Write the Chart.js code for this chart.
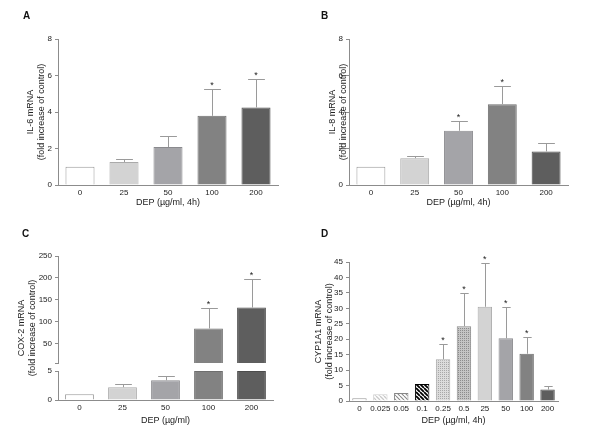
<!DOCTYPE html>
<html>
<head>
<meta charset="utf-8">
<script src="https://cdn.jsdelivr.net/npm/chart.js@4.4.1/dist/chart.umd.min.js"></script>
<style>
  body { margin: 0; background: #fff; }
  #fig { position: relative; width: 600px; height: 443px; }
  #fig canvas { position: absolute; }
  .tag { position: absolute; font: bold 10px "Liberation Sans", Arial, sans-serif; color: #111; line-height: 10px; }
</style>
</head>
<body>
<div id="fig">
  <canvas id="chartA" width="300" height="215" style="left:0;top:0"></canvas>
  <canvas id="chartB" width="300" height="215" style="left:300px;top:0"></canvas>
  <canvas id="chartC" width="300" height="223" style="left:0;top:220px"></canvas>
  <canvas id="chartD" width="300" height="223" style="left:300px;top:220px"></canvas>
  <div class="tag" style="left:23px;top:11px">A</div>
  <div class="tag" style="left:321px;top:11px">B</div>
  <div class="tag" style="left:22px;top:229px">C</div>
  <div class="tag" style="left:321px;top:229px">D</div>
</div>
<script>
// doses (x categories)
const doses = ['0', '25', '50', '100', '200'];
const cypDoses = ['0', '0.025', '0.05', '0.1', '0.25', '0.5', '25', '50', '100', '200'];

// A: IL-6
const il6Mean = [1.0, 1.26, 2.08, 3.79, 4.25];
const il6Err = [null, 1.42, 2.69, 5.25, 5.8];
const il6Sig = [false, false, false, true, true];

// B: IL-8
const il8Mean = [1.0, 1.47, 2.97, 4.43, 1.84];
const il8Err = [null, 1.6, 3.53, 5.43, 2.29];
const il8Sig = [false, false, true, true, false];

// C: COX-2 (broken axis)
const cox2Mean = [1.0, 2.2, 3.4, 84, 132];
const cox2Err = [null, 2.7, 4.1, 132, 198];
const cox2Sig = [false, false, false, true, true];
const cox2LowTicks = [0, 5];
const cox2HighTicks = [5, 50, 100, 150, 200, 250];
const cox2Break = 5;

// D: CYP1A1
const cypMean = [0.9, 2.2, 2.6, 5.5, 13.5, 24.2, 30.5, 20.3, 15.3, 3.7];
const cypErr = [null, null, null, null, 18.3, 35.0, 44.6, 30.5, 20.8, 5.0];
const cypSig = [false, false, false, false, true, true, true, true, true, false];

Chart.defaults.font.family = '"Liberation Sans", Arial, sans-serif';
Chart.defaults.color = '#222';

const axisGray = '#8c8c8c';
const greys = ['#ffffff', '#d3d3d3', '#a4a4a8', '#828282', '#5e5e5e'];
const greyBorders = ['#999999', '#aaaaaa', '#8a8a8e', '#6e6e6e', '#4c4c4c'];

function stripes(fg, lw, gap) {
    const c = document.createElement('canvas');
    c.width = gap; c.height = gap;
    const g = c.getContext('2d');
    g.fillStyle = '#fff';
    g.fillRect(0, 0, gap, gap);
    g.strokeStyle = fg;
    g.lineWidth = lw;
    g.beginPath();
    for (let k = -1; k <= 1; k++) {
        g.moveTo(k * gap, 0);
        g.lineTo(k * gap + gap, gap);
    }
    g.stroke();
    return g.createPattern(c, 'repeat');
}

function dots(bg, fg) {
    const c = document.createElement('canvas');
    c.width = 2; c.height = 2;
    const g = c.getContext('2d');
    g.fillStyle = bg;
    g.fillRect(0, 0, 2, 2);
    g.fillStyle = fg;
    g.fillRect(0, 0, 1, 1);
    return g.createPattern(c, 'repeat');
}

// error bars (upper whisker only) + significance stars
const errorBars = {
    id: 'errorBars',
    afterDatasetsDraw(chart) {
        const ctx = chart.ctx;
        chart.data.datasets.forEach((ds, i) => {
            if (!ds.errTop) return;
            const meta = chart.getDatasetMeta(i);
            const yScale = chart.scales[meta.yAxisID];
            meta.data.forEach((bar, j) => {
                const v = ds.errTop[j];
                if (v == null) return;
                const yTop = Math.round(yScale.getPixelForValue(v)) + 0.5;
                const x = Math.round(bar.x) + 0.5;
                const half = bar.width * 0.29;
                ctx.save();
                ctx.strokeStyle = '#9a9a9a';
                ctx.lineWidth = 1;
                ctx.beginPath();
                ctx.moveTo(x, bar.y);
                ctx.lineTo(x, yTop);
                ctx.moveTo(x - half, yTop);
                ctx.lineTo(x + half, yTop);
                ctx.stroke();
                if (ds.sig && ds.sig[j]) {
                    ctx.fillStyle = '#222';
                    ctx.font = '9px "Liberation Sans", Arial, sans-serif';
                    ctx.textAlign = 'center';
                    ctx.fillText('*', bar.x, yTop - 2);
                }
                ctx.restore();
            });
        });
    }
};

function yAxis(title, max, step, width) {
    return {
        min: 0,
        max: max,
        ticks: { stepSize: step, padding: 3, font: { size: 8 } },
        grid: { drawOnChartArea: false, tickLength: 3, color: axisGray },
        border: { color: axisGray },
        title: { display: true, text: [title, '(fold increase of control)'], font: { size: 9 }, padding: 0 },
        afterFit: s => { s.width = width; }
    };
}

function xAxis(title, height) {
    return {
        grid: { drawOnChartArea: false, drawTicks: false },
        border: { color: axisGray },
        ticks: { font: { size: 8 }, padding: 3, maxRotation: 0, autoSkip: false },
        title: { display: true, text: title, font: { size: 9 }, padding: 0 },
        afterFit: s => { s.height = height; }
    };
}

const baseOptions = {
    responsive: false,
    animation: false,
    events: [],
    plugins: { legend: { display: false }, tooltip: { enabled: false } }
};

function simplePanel(id, labels, mean, err, sig, yTitle, yMax, yStep, yWidth, xHeight, padding, barPct) {
    return new Chart(document.getElementById(id), {
        type: 'bar',
        data: {
            labels: labels,
            datasets: [{
                data: mean,
                errTop: err,
                sig: sig,
                backgroundColor: greys,
                borderColor: greyBorders,
                borderWidth: 1,
                categoryPercentage: 1,
                barPercentage: barPct
            }]
        },
        options: Object.assign({}, baseOptions, {
            layout: { padding: padding },
            scales: {
                x: xAxis('DEP (\u00b5g/ml, 4h)', xHeight),
                y: yAxis(yTitle, yMax, yStep, yWidth)
            }
        }),
        plugins: [errorBars]
    });
}

simplePanel('chartA', doses, il6Mean, il6Err, il6Sig, 'IL-6 mRNA', 8, 2, 33, 23,
    { left: 25, right: 22, top: 39, bottom: 7 }, 0.66);
simplePanel('chartB', doses, il8Mean, il8Err, il8Sig, 'IL-8 mRNA', 8, 2, 22, 23,
    { left: 27, right: 32, top: 39, bottom: 7 }, 0.66);

// C: two stacked y axes make the broken axis
const stackTicks = { padding: 3, font: { size: 8 } };
new Chart(document.getElementById('chartC'), {
    type: 'bar',
    data: {
        labels: doses,
        datasets: [{
            data: cox2Mean.map(v => Math.min(v, cox2Break)),
            errTop: cox2Err.map((e, i) => cox2Mean[i] <= cox2Break ? e : null),
            sig: cox2Sig,
            yAxisID: 'yLow',
            grouped: false,
            backgroundColor: greys,
            borderColor: greyBorders,
            borderWidth: 1,
            categoryPercentage: 1,
            barPercentage: 0.67
        }, {
            data: cox2Mean.map(v => v > cox2Break ? [cox2Break, v] : null),
            errTop: cox2Err.map((e, i) => cox2Mean[i] > cox2Break ? e : null),
            sig: cox2Sig,
            yAxisID: 'yHigh',
            grouped: false,
            backgroundColor: greys,
            borderColor: greyBorders,
            borderWidth: 1,
            categoryPercentage: 1,
            barPercentage: 0.67
        }]
    },
    options: Object.assign({}, baseOptions, {
        layout: { padding: { left: 16, right: 27, top: 36, bottom: 17 } },
        scales: {
            x: xAxis('DEP (\u00b5g/ml)', 26),
            yLow: {
                type: 'linear', position: 'left', stack: 'cox', stackWeight: 29,
                min: 0, max: cox2Break,
                afterBuildTicks: s => { s.ticks = cox2LowTicks.map(v => ({ value: v })); },
                ticks: stackTicks,
                grid: { drawOnChartArea: false, tickLength: 3, color: axisGray },
                border: { color: axisGray },
                afterFit: s => { s.width = 20; }
            },
            yGap: {
                type: 'linear', position: 'left', stack: 'cox', stackWeight: 8, display: false
            },
            yHigh: {
                type: 'linear', position: 'left', stack: 'cox', stackWeight: 107,
                min: cox2Break, max: 250,
                afterBuildTicks: s => { s.ticks = cox2HighTicks.map(v => ({ value: v })); },
                ticks: Object.assign({}, stackTicks, { callback: v => v < 50 ? '' : v }),
                grid: { drawOnChartArea: false, tickLength: 3, color: axisGray },
                border: { color: axisGray },
                afterFit: s => { s.width = 20; }
            },
            yTitle: {
                type: 'linear', position: 'left',
                ticks: { display: false },
                grid: { display: false },
                border: { display: false },
                title: { display: true, text: ['COX-2 mRNA', '(fold increase of control)'], font: { size: 9 }, padding: 0 },
                afterFit: s => { s.width = 22; }
            }
        }
    }),
    plugins: [errorBars]
});

// D: CYP1A1 with hatched / dotted fills for the low doses
const cypFill = [
    '#ffffff',
    stripes('#c8c8c8', 1.3, 4),
    stripes('#8a8a8a', 1.1, 4),
    stripes('#000000', 1.8, 4),
    dots('#dcdcdc', '#a8a8a8'),
    dots('#c4c4c4', '#8c8c8c'),
    '#d3d3d3', '#a4a4a8', '#828282', '#5e5e5e'
];
const cypBorder = ['#999', '#d0d0d0', '#888', '#000', '#aaa', '#888', '#aaa', '#8a8a8e', '#6e6e6e', '#4c4c4c'];

new Chart(document.getElementById('chartD'), {
    type: 'bar',
    data: {
        labels: cypDoses,
        datasets: [{
            data: cypMean,
            errTop: cypErr,
            sig: cypSig,
            backgroundColor: cypFill,
            borderColor: cypBorder,
            borderWidth: 1,
            categoryPercentage: 1,
            barPercentage: 0.69
        }]
    },
    options: Object.assign({}, baseOptions, {
        layout: { padding: { left: 13, right: 42, top: 42, bottom: 17 } },
        scales: {
            x: xAxis('DEP (\u00b5g/ml, 4h)', 25),
            y: yAxis('CYP1A1 mRNA', 45, 5, 36)
        }
    }),
    plugins: [errorBars]
});
</script>
</body>
</html>
